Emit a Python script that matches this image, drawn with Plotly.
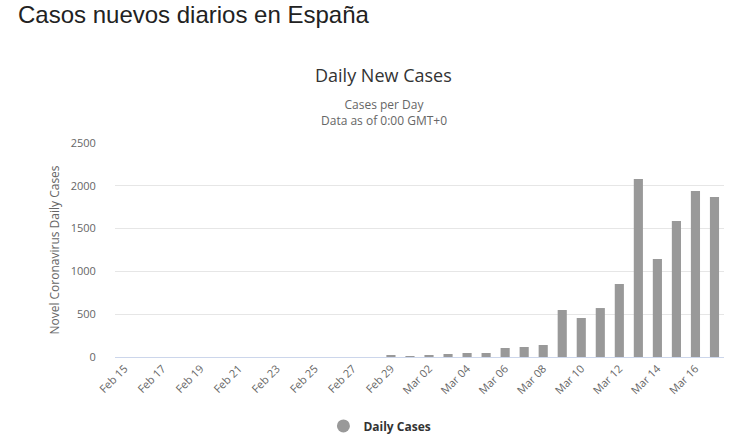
import plotly.graph_objects as go

# Dates Feb 15 .. Mar 17 (2020)
dates = (["Feb %d" % d for d in range(15, 30)] +
         ["Mar %02d" % d for d in range(1, 18)])

daily_cases = [0, 0, 0, 0, 0, 0, 0, 0, 0, 0, 0, 0, 0, 0, 12,
               8, 23, 35, 47, 47, 105, 117, 140, 549, 456, 572, 853,
               2078, 1145, 1589, 1939, 1869]

tick_labels = dates[::2]

y_ticks = [0, 500, 1000, 1500, 2000, 2500]

FONT = "Open Sans"

fig = go.Figure()
fig.add_trace(go.Bar(
    x=dates,
    y=daily_cases,
    marker_color="#999999",
    marker_line_width=0,
    showlegend=False,
    name="Daily Cases",
))
# legend entry with a round symbol
fig.add_trace(go.Scatter(
    x=[None], y=[None],
    mode="markers",
    marker=dict(symbol="circle", size=13, color="#999999"),
    name="<b>Daily Cases</b>",
))

fig.update_layout(
    width=756, height=435,
    margin=dict(l=115, r=32, t=143, b=78, autoexpand=False),
    plot_bgcolor="white",
    paper_bgcolor="white",
    bargap=0.52,
    font=dict(family=FONT, color="#666666", size=11),
    title=dict(
        text="Casos nuevos diarios en España",
        x=18 / 756, xref="container", xanchor="left",
        y=1 - 15 / 435, yref="container", yanchor="middle",
        font=dict(family="Liberation Sans, Arial", size=24, color="#222222"),
    ),
    legend=dict(
        orientation="h",
        x=0.435, xanchor="center",
        y=-0.322, yanchor="middle",
        font=dict(family=FONT, size=12, color="#333333"),
    ),
    annotations=[
        dict(text="Daily New Cases", x=0.4417, y=(357 - 75) / 214,
             xref="paper", yref="paper", showarrow=False,
             xanchor="center", yanchor="middle",
             font=dict(family=FONT, size=18, color="#333333")),
        dict(text="Cases per Day<br>Data as of 0:00 GMT+0",
             x=0.4417, y=(357 - 112.5) / 214,
             xref="paper", yref="paper", showarrow=False,
             xanchor="center", yanchor="middle",
             font=dict(family=FONT, size=12, color="#666666")),
    ],
)

fig.update_xaxes(
    type="category",
    range=[-0.5, len(dates) - 0.5],
    tickvals=tick_labels,
    ticktext=tick_labels,
    tickangle=-45,
    showgrid=False,
    showline=True,
    linecolor="#ccd6eb",
    linewidth=1,
    ticks="",
    tickfont=dict(size=11, color="#666666"),
)
fig.update_yaxes(
    range=[0, 2500],
    tickvals=y_ticks,
    showgrid=True,
    gridcolor="#e6e6e6",
    zeroline=False,
    ticks="outside",
    ticklen=16,
    tickcolor="rgba(0,0,0,0)",
    tickfont=dict(size=11, color="#666666"),
    title=dict(text="Novel Coronavirus Daily Cases", standoff=8,
               font=dict(size=12, color="#666666")),
)

fig.write_html("out.html", config={"displayModeBar": False},
               post_script="document.body.style.margin='0';")
